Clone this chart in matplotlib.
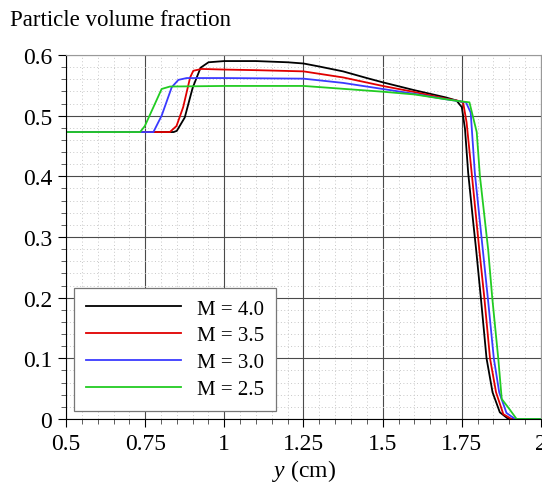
import matplotlib
matplotlib.use("Agg")
import matplotlib.pyplot as plt
from matplotlib.ticker import MultipleLocator, FormatStrFormatter

plt.rcParams['font.family'] = ['Liberation Serif', 'DejaVu Serif']
plt.rcParams['mathtext.fontset'] = 'custom'
plt.rcParams['mathtext.it'] = 'Liberation Serif:italic'
plt.rcParams['mathtext.rm'] = 'Liberation Serif'

# M = 4.0
x_m40 = [0.5, 0.84, 0.85, 0.875, 0.90, 0.925, 0.95, 1.0, 1.1, 1.2, 1.25, 1.3, 1.375, 1.45, 1.5,
         1.6, 1.7, 1.733, 1.75, 1.76, 1.77, 1.786, 1.795, 1.81, 1.828, 1.847, 1.87, 1.897, 2.0]
y_m40 = [0.473, 0.473, 0.475, 0.497, 0.546, 0.579, 0.588, 0.590, 0.590, 0.588, 0.586, 0.581, 0.573,
         0.562, 0.555, 0.542, 0.530, 0.525, 0.514, 0.478, 0.406, 0.324, 0.280, 0.200, 0.100, 0.044,
         0.011, 0.0, 0.0]
# M = 3.5
x_m35 = [0.5, 0.828, 0.849, 0.870, 0.892, 0.902, 0.928, 1.0, 1.1, 1.25, 1.375, 1.5, 1.6, 1.7,
         1.735, 1.754, 1.765, 1.781, 1.805, 1.821, 1.839, 1.858, 1.881, 1.907, 2.0]
y_m35 = [0.473, 0.473, 0.483, 0.514, 0.563, 0.574, 0.577, 0.576, 0.575, 0.573, 0.563, 0.549, 0.539,
         0.528, 0.525, 0.522, 0.489, 0.406, 0.280, 0.200, 0.100, 0.044, 0.008, 0.0, 0.0]
# M = 3.0
x_m30 = [0.5, 0.776, 0.802, 0.834, 0.855, 0.881, 1.0, 1.25, 1.375, 1.5, 1.6, 1.7, 1.74, 1.763,
         1.778, 1.791, 1.816, 1.832, 1.851, 1.868, 1.891, 1.918, 2.0]
y_m30 = [0.473, 0.473, 0.500, 0.547, 0.559, 0.562, 0.562, 0.561, 0.554, 0.544, 0.536, 0.527, 0.524,
         0.522, 0.505, 0.406, 0.280, 0.200, 0.100, 0.044, 0.010, 0.0, 0.0]
# M = 2.5
x_m25 = [0.5, 0.734, 0.749, 0.776, 0.802, 0.828, 1.0, 1.25, 1.5, 1.6, 1.7, 1.74, 1.774, 1.797,
         1.807, 1.833, 1.846, 1.865, 1.876, 1.900, 1.923, 2.0]
y_m25 = [0.473, 0.473, 0.483, 0.514, 0.544, 0.548, 0.549, 0.549, 0.5395, 0.535, 0.527, 0.524,
         0.522, 0.473, 0.401, 0.280, 0.200, 0.100, 0.033, 0.0165, 0.0, 0.0]

labels = ['M = 4.0', 'M = 3.5', 'M = 3.0', 'M = 2.5']
colors = ['black', '#e00000', '#3a3aff', '#22cc22']

fig = plt.figure(figsize=(5.42, 4.85), dpi=100)
ax = fig.add_axes([66/542, 65/485, 475/542, 364/485])

for xs, ys, lab, c in zip([x_m40, x_m35, x_m30, x_m25], [y_m40, y_m35, y_m30, y_m25], labels, colors):
    ax.plot(xs, ys, color=c, lw=1.3, label=lab)

ax.set_xlim(0.5, 2.0)
ax.set_ylim(0, 0.6)
ax.xaxis.set_major_locator(MultipleLocator(0.25))
ax.xaxis.set_minor_locator(MultipleLocator(0.05))
ax.yaxis.set_major_locator(MultipleLocator(0.1))
ax.yaxis.set_minor_locator(MultipleLocator(0.02))
ax.xaxis.set_major_formatter(FormatStrFormatter('%g'))
ax.yaxis.set_major_formatter(FormatStrFormatter('%g'))

ax.grid(which='major', color='#4a4a4a', lw=0.8)
ax.grid(which='minor', color='#c8c8c8', lw=0.7, ls=(0, (1, 2.5)))
ax.set_axisbelow(True)

ax.tick_params(which='major', direction='out', length=6, width=0.8, labelsize=17, pad=4)
ax.tick_params(which='minor', direction='out', length=3.5, width=0.6, color='#444444')
ax.spines['top'].set_color('#999999')
ax.spines['right'].set_color('#999999')

ax.set_xlabel(r'$\mathit{y}$ (cm)', fontsize=17, labelpad=2)
fig.text(10/542, 1 - 20/485, 'Particle volume fraction', fontsize=16.5, va='center', ha='left')

leg = ax.legend(loc='lower left', fontsize=15, handlelength=4.55, handletextpad=0.8,
                labelspacing=0.35, borderpad=0.55, borderaxespad=0.4, fancybox=False,
                framealpha=1, edgecolor='#777777')
leg.get_frame().set_linewidth(0.9)

fig.savefig('out.png', dpi=100)
